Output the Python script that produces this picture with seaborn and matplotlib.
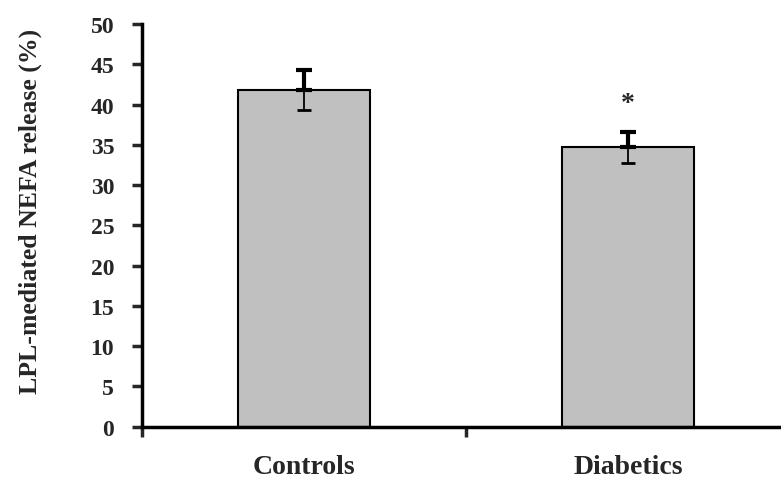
import numpy as np
import pandas as pd
import matplotlib
matplotlib.use("Agg")
import matplotlib.pyplot as plt
import seaborn as sns

groups = ["Controls", "Diabetics"]
release = [41.8, 34.7]
sem = [2.5, 1.9]
yticks = [0, 5, 10, 15, 20, 25, 30, 35, 40, 45, 50]


def main():
    sns.set_style("white")
    plt.rcParams['font.family'] = ['Liberation Serif', 'DejaVu Serif']
    plt.rcParams['font.weight'] = 'bold'

    df = pd.DataFrame({"group": groups, "release": release, "sem": sem})

    fig = plt.figure(figsize=(7.81, 4.89), dpi=100)
    ax = fig.add_axes([142 / 781, (489 - 427.7) / 489, (790 - 142) / 781, (427.7 - 25) / 489])

    sns.barplot(data=df, x="group", y="release", color="#c0c0c0", width=0.41,
                edgecolor="black", linewidth=1.5, errorbar=None, ax=ax, saturation=1)

    # error bars: thicker above the bar, thin inside it
    x = np.arange(len(groups))
    r = np.array(release)
    s = np.array(sem)
    ax.errorbar(x, r, yerr=[np.zeros_like(s), s], fmt="none", ecolor="black",
                elinewidth=3, capsize=5.8, capthick=3, zorder=5)
    ax.errorbar(x, r, yerr=[s, np.zeros_like(s)], fmt="none", ecolor="black",
                elinewidth=1.3, capsize=4.8, capthick=2, zorder=5)

    ax.text(1, 40.1, "*", ha="center", va="center", fontsize=20, fontweight="bold")

    ax.set_xlim(-0.5, 1.5)
    ax.set_ylim(0, 50)
    ax.set_yticks(yticks)
    ax.set_yticklabels([str(v) for v in yticks], fontsize=17, fontweight="bold")
    ax.set_xticks(x)
    ax.set_xticklabels(groups, fontsize=20, fontweight="bold")
    ax.set_xticks([-0.5, 0.5, 1.5], minor=True)
    ax.tick_params(axis="both", which="both", left=True, bottom=True)
    ax.tick_params(axis="x", which="major", length=0, pad=20)
    ax.tick_params(axis="x", which="minor", direction="out", length=7, width=2.5)
    ax.tick_params(axis="y", direction="out", length=7, width=2.5, pad=13)
    ax.set_xlabel("")
    ax.set_ylabel("LPL-mediated NEFA release (%)", fontsize=18.5, fontweight="bold")
    ax.yaxis.set_label_coords(-0.154, 0.537)

    for side in ["top", "right"]:
        ax.spines[side].set_visible(False)
    for side in ["left", "bottom"]:
        ax.spines[side].set_linewidth(2.5)
        ax.spines[side].set_color("black")

    fig.savefig("out.png", dpi=100)


if __name__ == "__main__":
    main()
